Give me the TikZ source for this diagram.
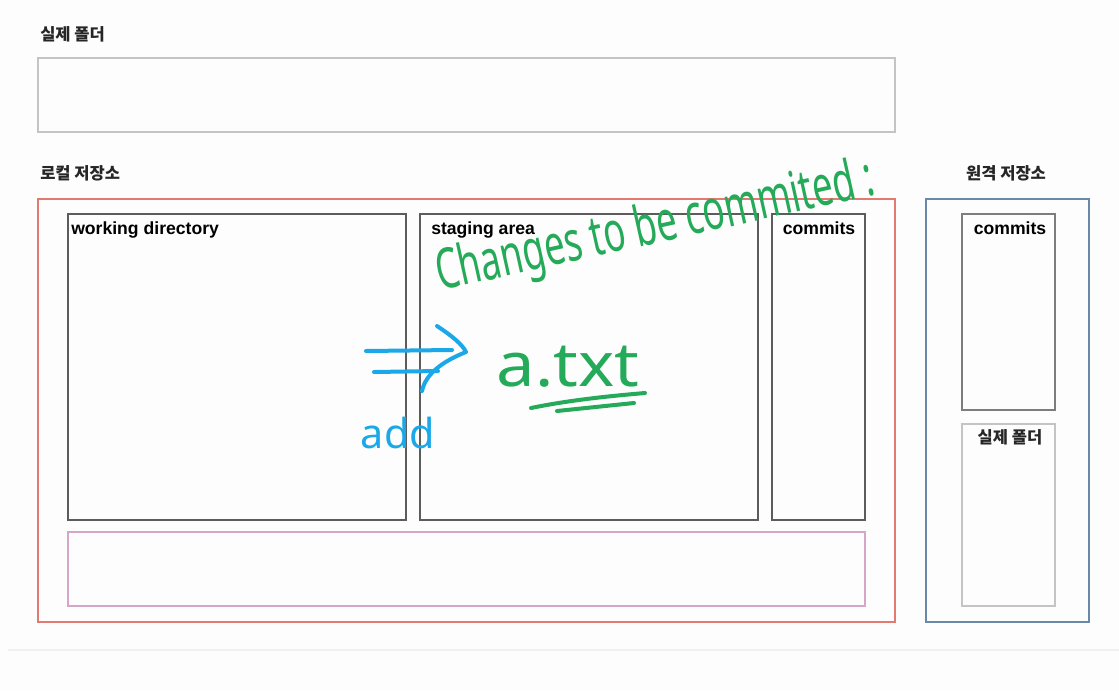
\documentclass[tikz,border=0pt]{standalone}
\usepackage{fontspec}
\setmainfont{Liberation Sans}
\newfontfamily\kr{Noto Sans CJK KR}
\newfontfamily\hand{Noto Sans}
\usetikzlibrary{fit}
\definecolor{bgc}{HTML}{FDFDFD}
\definecolor{lightline}{HTML}{C4C4C4}
\definecolor{darkline}{HTML}{5C5C5C}
\definecolor{localred}{HTML}{E27A72}
\definecolor{pinkline}{HTML}{D6A6C6}
\definecolor{remoteblue}{HTML}{6A88A8}
\definecolor{penblue}{HTML}{1AA8E8}
\definecolor{pengreen}{HTML}{24AA58}
\definecolor{faint}{HTML}{F0F0F0}
\begin{document}
\begin{tikzpicture}[x=0.75pt,y=-0.75pt,
  box/.style={draw, inner sep=0pt, line width=0.8pt},
  krtitle/.style={font=\kr\bfseries\fontsize{12.4}{14}\selectfont, inner sep=0pt, text=black!85},
  lab/.style={font=\bfseries\fontsize{13.2}{15}\selectfont, inner sep=0pt},
  pen/.style={line width=3pt, line cap=round, line join=round},
  handtext/.style={inner sep=0pt}]
\useasboundingbox[fill=bgc] (0,0) rectangle (1119,690);
\draw[faint, line width=0.8pt] (8,650) -- (1119,650);

% titles
\node[krtitle, anchor=base west] (t1) at (40,40) {실제 폴더};
\node[krtitle, anchor=base west] (t2) at (40,179) {로컬 저장소};
\node[krtitle, anchor=base] (t3) at (1006,179) {원격 저장소};

% boxes
\node[box, draw=lightline, fit={(38,58) (895,132)}] (real) {};
\node[box, draw=localred, fit={(38,199) (895,622)}] (local) {};
\node[box, draw=darkline, fit={(68,214) (406,520)}] (wd) {};
\node[box, draw=darkline, fit={(420,214) (758,520)}] (stage) {};
\node[box, draw=darkline, fit={(772,214) (865,520)}] (lcommits) {};
\node[box, draw=pinkline, fit={(68,532) (865,606)}] (pinkbox) {};
\node[box, draw=remoteblue, fit={(926,199) (1089,622)}] (remote) {};
\node[box, draw=darkline!80, fit={(962,214) (1055,410)}] (rcommits) {};
\node[box, draw=lightline, fit={(962,424) (1055,606)}] (rreal) {};

% labels
\node[lab, anchor=base west] (wdl) at (71,234) {working directory};
\node[lab, anchor=base west] (stl) at (431,234) {staging area};
\node[lab, anchor=base] (lcl) at (819,234) {commits};
\node[lab, anchor=base] (rcl) at (1010,234) {commits};
\node[krtitle, anchor=base] (rrl) at (1010,443) {실제 폴더};

% handwritten annotations
\node[handtext, anchor=base west, rotate=12.5, text=pengreen, font=\hand\fontsize{42}{46}\selectfont] (chg) at (440,291) {\scalebox{0.65}[1]{Changes to be commited :}};
\node[handtext, anchor=base, text=pengreen, font=\hand\fontsize{46}{50}\selectfont] (atxt) at (568,386) {\scalebox{1.12}[1]{a.txt}};
\node[handtext, anchor=base, text=penblue, font=\hand\fontsize{31}{34}\selectfont] (add) at (398,448) {add};

\coordinate (u1a) at (531,408);
\coordinate (u1b) at (645,393);
\coordinate (u2a) at (557,411);
\coordinate (u2b) at (634,403);
\draw[pen, pengreen] (u1a) .. controls (570,400) and (610,396) .. (u1b);
\draw[pen, pengreen] (u2a) -- (u2b);

\coordinate (ar1a) at (366,351);
\coordinate (ar1b) at (452,350);
\coordinate (ar2a) at (374,372);
\coordinate (ar2b) at (438,371);
\coordinate (hd1) at (437,326);
\coordinate (hdt) at (466,352);
\coordinate (hd2) at (422,391);
\draw[pen, penblue] (ar1a) -- (ar1b);
\draw[pen, penblue] (ar2a) -- (ar2b);
\draw[pen, penblue] (hd1) .. controls (452,336) and (462,344) .. (hdt) .. controls (446,360) and (426,372) .. (hd2);
\end{tikzpicture}
\end{document}
